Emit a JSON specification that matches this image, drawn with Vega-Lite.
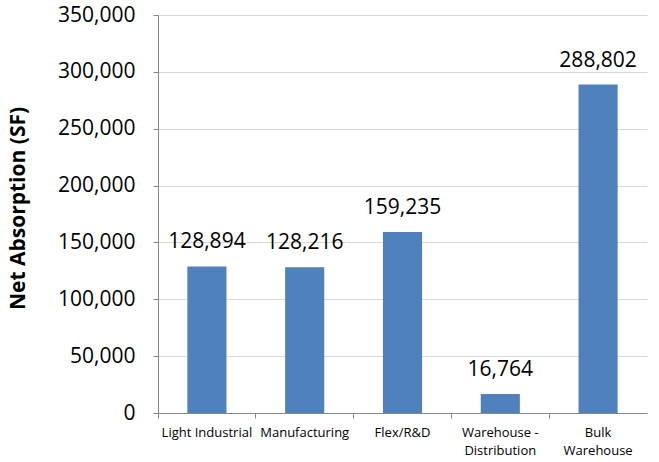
{
  "$schema": "https://vega.github.io/schema/vega-lite/v6.json",
  "width": 489,
  "height": 398,
  "autosize": {"type": "none"},
  "padding": {"left": 158, "top": 15, "right": 12, "bottom": 49},
  "background": "white",
  "config": {"view": {"stroke": null}, "font": "Open Sans"},
  "data": {
    "values": [
      {"category": "Light Industrial", "value": 128894},
      {"category": "Manufacturing", "value": 128216},
      {"category": "Flex/R&D", "value": 159235},
      {"category": "Warehouse - Distribution", "value": 16764},
      {"category": "Bulk Warehouse", "value": 288802}
    ]
  },
  "encoding": {
    "x": {
      "field": "category",
      "type": "nominal",
      "sort": null,
      "scale": {"paddingInner": 0, "paddingOuter": 0},
      "axis": {
        "title": null,
        "labelAngle": 0,
        "labelFont": "Open Sans",
        "labelFontSize": 13,
        "labelColor": "#000000",
        "labelPadding": 8,
        "labelLineHeight": 18,
        "bandPosition": 0,
        "domainColor": "#868686",
        "tickColor": "#868686",
        "tickSize": 5,
        "labelExpr": "datum.label == 'Warehouse - Distribution' ? ['Warehouse -', 'Distribution'] : datum.label == 'Bulk Warehouse' ? ['Bulk', 'Warehouse'] : datum.label"
      }
    },
    "y": {
      "field": "value",
      "type": "quantitative",
      "scale": {"domain": [0, 350000], "nice": false},
      "axis": {
        "title": "Net Absorption (SF)",
        "titleFont": "Open Sans",
        "titleFontSize": 21,
        "titleFontWeight": "bold",
        "titleColor": "#000000",
        "titleX": -140,
        "titleY": 193,
        "titleAlign": "center",
        "titleBaseline": "middle",
        "titleAngle": -90,
        "values": [0, 50000, 100000, 150000, 200000, 250000, 300000, 350000],
        "format": ",.0f",
        "labelFont": "Open Sans",
        "labelFontSize": 21,
        "labelColor": "#000000",
        "labelPadding": 18,
        "domainColor": "#868686",
        "tickColor": "#868686",
        "tickSize": 5,
        "gridColor": "#d9d9d9",
        "grid": true
      }
    }
  },
  "layer": [
    {
      "mark": {"type": "bar", "color": "#4F81BD", "width": {"band": 0.4}}
    },
    {
      "mark": {"type": "text", "baseline": "alphabetic", "dy": -18, "font": "Open Sans", "fontSize": 21, "color": "#000000"},
      "encoding": {"text": {"field": "value", "type": "quantitative", "format": ","}}
    }
  ]
}
